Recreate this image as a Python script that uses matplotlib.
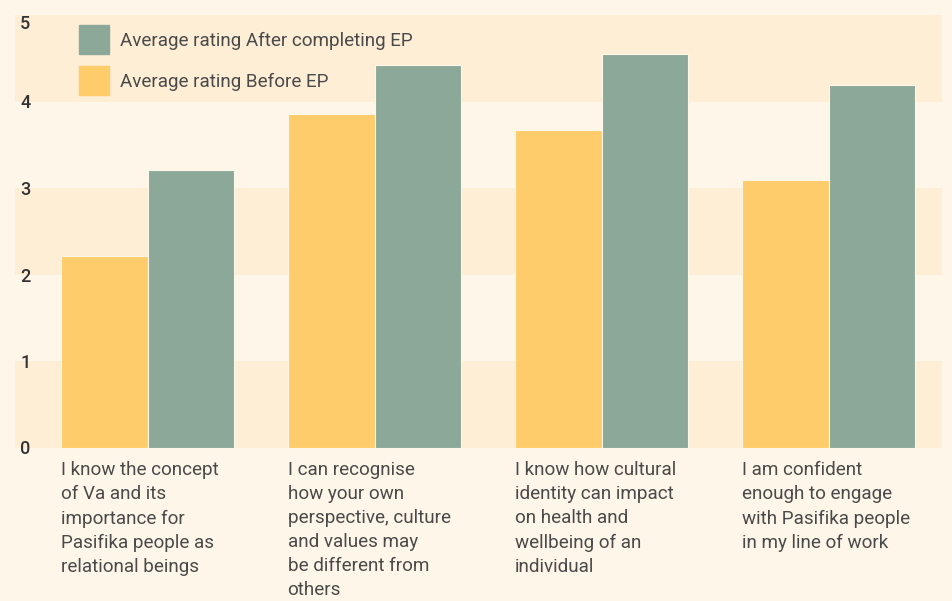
import matplotlib.pyplot as plt
from matplotlib.patches import Patch

categories = [
    'I know the concept\nof Va and its\nimportance for\nPasifika people as\nrelational beings',
    'I can recognise\nhow your own\nperspective, culture\nand values may\nbe different from\nothers',
    'I know how cultural\nidentity can impact\non health and\nwellbeing of an\nindividual',
    'I am confident\nenough to engage\nwith Pasifika people\nin my line of work',
]
before = [2.21, 3.86, 3.67, 3.09]
after = [3.21, 4.42, 4.55, 4.19]
yticks = [0, 1, 2, 3, 4, 5]

bg = '#FFF6EA'
band = '#FFEED6'
yellow = '#FECC6A'
green = '#8CA898'
txt = '#4A4A4A'

plt.rcParams['font.family'] = ['Roboto', 'DejaVu Sans']

fig = plt.figure(figsize=(9.53, 6.01), dpi=100, facecolor=bg)
ax = fig.add_axes([15 / 953, (601 - 447.5) / 601, 927 / 953, 432.5 / 601])
ax.set_facecolor(bg)

for lo in (0, 2, 4):
    ax.axhspan(lo, lo + 1, color=band, lw=0, zorder=0)

w = 0.383
x = list(range(len(categories)))
ax.bar([i - w / 2 for i in x], before, width=w, color=yellow, edgecolor=bg, linewidth=0.8, zorder=2)
ax.bar([i + w / 2 for i in x], after, width=w, color=green, edgecolor=bg, linewidth=0.8, zorder=2)

ax.set_xlim(-0.584, 3.5)
ax.set_ylim(0, 5)
for s in ax.spines.values():
    s.set_visible(False)

ax.set_yticks(yticks)
ax.set_yticklabels([str(t) for t in yticks], fontsize=13, fontweight='medium', color='#333333')
ax.tick_params(axis='y', length=0, pad=-11)
# top label sits a little lower in the original
ax.get_yticklabels()[-1].set_va('top')

ax.set_xticks([i - w for i in x])
ax.set_xticklabels(categories, fontsize=13.6, color=txt, ha='left', va='top', linespacing=1.43)
ax.tick_params(axis='x', length=0, pad=10)

handles = [Patch(color=green, label='Average rating After completing EP'),
           Patch(color=yellow, label='Average rating Before EP')]
ax.legend(handles=handles, loc='upper left', bbox_to_anchor=(0.051, 1.016), frameon=False,
          fontsize=13.6, labelcolor=txt, handlelength=1.6, handleheight=2.0,
          handletextpad=0.58, labelspacing=0.62, borderpad=0.4)

fig.savefig('out.png', dpi=100, facecolor=bg)
